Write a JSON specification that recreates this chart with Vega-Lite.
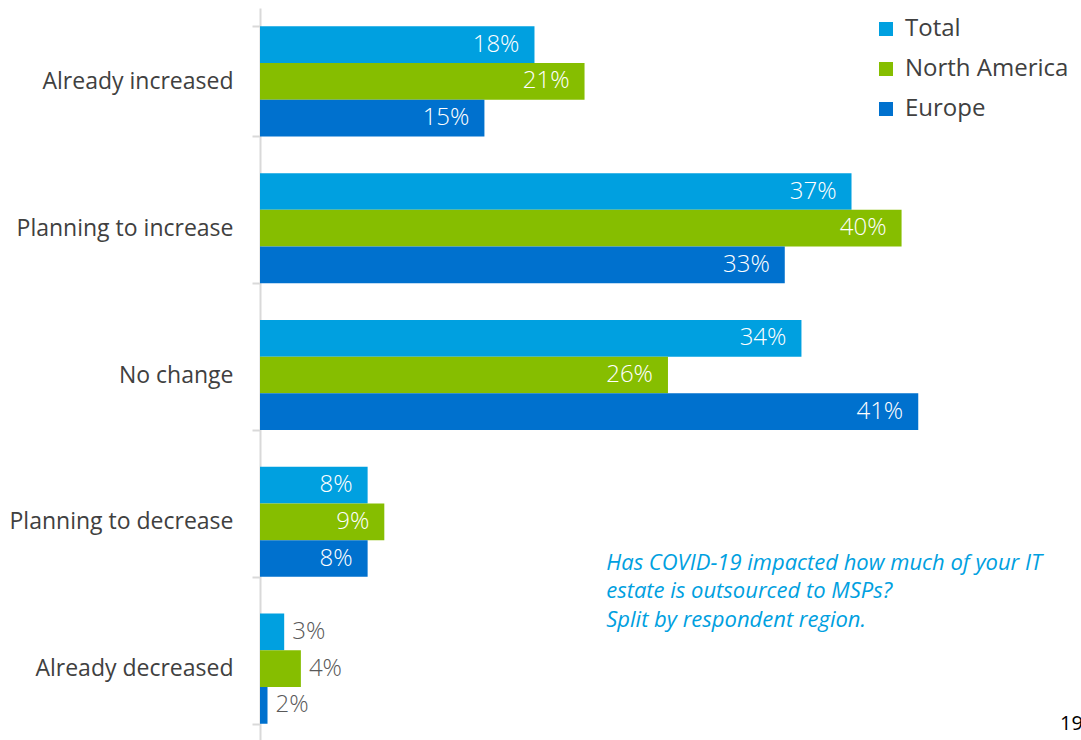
{
  "$schema": "https://vega.github.io/schema/vega-lite/v6.json",
  "autosize": "none",
  "width": 725,
  "height": 734,
  "padding": {"left": 260, "top": 8, "right": 96, "bottom": 0},
  "background": "white",
  "config": {"view": {"stroke": null}, "font": "Open Sans"},
  "data": {
    "values": [
      {"category": "Already increased", "region": "Total", "value": 0.18},
      {"category": "Already increased", "region": "North America", "value": 0.21},
      {"category": "Already increased", "region": "Europe", "value": 0.15},
      {"category": "Planning to increase", "region": "Total", "value": 0.37},
      {"category": "Planning to increase", "region": "North America", "value": 0.40},
      {"category": "Planning to increase", "region": "Europe", "value": 0.33},
      {"category": "No change", "region": "Total", "value": 0.34},
      {"category": "No change", "region": "North America", "value": 0.26},
      {"category": "No change", "region": "Europe", "value": 0.41},
      {"category": "Planning to decrease", "region": "Total", "value": 0.08},
      {"category": "Planning to decrease", "region": "North America", "value": 0.09},
      {"category": "Planning to decrease", "region": "Europe", "value": 0.08},
      {"category": "Already decreased", "region": "Total", "value": 0.03},
      {"category": "Already decreased", "region": "North America", "value": 0.04},
      {"category": "Already decreased", "region": "Europe", "value": 0.02}
    ]
  },
  "encoding": {
    "y": {
      "field": "category", "type": "nominal",
      "scale": {
        "domain": ["Already increased", "Planning to increase", "No change", "Planning to decrease", "Already decreased"],
        "paddingInner": 0.25, "paddingOuter": 0.125
      },
      "axis": {
        "title": null,
        "domainColor": "#D9D9D9", "domainWidth": 2,
        "tickColor": "#D9D9D9", "tickWidth": 2, "tickSize": 8, "tickBand": "extent",
        "labelFont": "Open Sans", "labelFontSize": 23, "labelColor": "#404040",
        "labelPadding": 19, "labelLimit": 300
      }
    },
    "yOffset": {
      "field": "region", "type": "nominal",
      "scale": {"domain": ["Total", "North America", "Europe"], "paddingInner": 0, "paddingOuter": 0}
    },
    "x": {
      "field": "value", "type": "quantitative",
      "scale": {"domain": [0.0155, 0.45], "zero": false, "nice": false},
      "axis": null
    }
  },
  "layer": [
    {
      "mark": {"type": "bar", "clip": true},
      "encoding": {
        "color": {
          "field": "region", "type": "nominal",
          "scale": {"domain": ["Total", "North America", "Europe"], "range": ["#00A0E0", "#86BE00", "#0071CE"]},
          "legend": {
            "title": null, "orient": "none", "legendX": 614, "legendY": 9,
            "symbolType": "square", "symbolSize": 196, "symbolStrokeWidth": 0,
            "labelFont": "Open Sans", "labelFontSize": 24, "labelColor": "#404040",
            "labelOffset": 7, "rowPadding": 16, "labelLimit": 300
          }
        }
      }
    },
    {
      "transform": [{"filter": "datum.category !== 'Already decreased'"}],
      "mark": {"type": "text", "align": "right", "baseline": "middle", "dx": -15, "fontSize": 24, "fontWeight": 300, "color": "white", "font": "Open Sans"},
      "encoding": {"text": {"field": "value", "type": "quantitative", "format": ".0%"}}
    },
    {
      "transform": [{"filter": "datum.category === 'Already decreased'"}],
      "mark": {"type": "text", "align": "left", "baseline": "middle", "dx": 8, "fontSize": 24, "fontWeight": 300, "color": "#595959", "font": "Open Sans"},
      "encoding": {"text": {"field": "value", "type": "quantitative", "format": ".0%"}}
    },
    {
      "data": {"values": [{"note": "Has COVID-19 impacted how much of your IT\nestate is outsourced to MSPs?\nSplit by respondent region.", "anchor": 0.223, "row": "Planning to decrease"}]},
      "mark": {"type": "text", "align": "left", "baseline": "alphabetic", "dy": 103, "lineBreak": "\n", "lineHeight": 28.5, "fontSize": 22, "fontStyle": "italic", "color": "#00A0E0", "font": "Open Sans"},
      "encoding": {
        "x": {"field": "anchor", "type": "quantitative"},
        "y": {"field": "row", "type": "nominal"},
        "yOffset": {"value": 0},
        "text": {"field": "note"}
      }
    },
    {
      "data": {"values": [{"page": "19", "anchor": 0.495, "row": "Already decreased"}]},
      "mark": {"type": "text", "align": "left", "baseline": "alphabetic", "dy": 116, "fontSize": 20, "color": "#000000", "font": "Open Sans"},
      "encoding": {
        "x": {"field": "anchor", "type": "quantitative"},
        "y": {"field": "row", "type": "nominal"},
        "yOffset": {"value": 0},
        "text": {"field": "page"}
      }
    }
  ]
}
